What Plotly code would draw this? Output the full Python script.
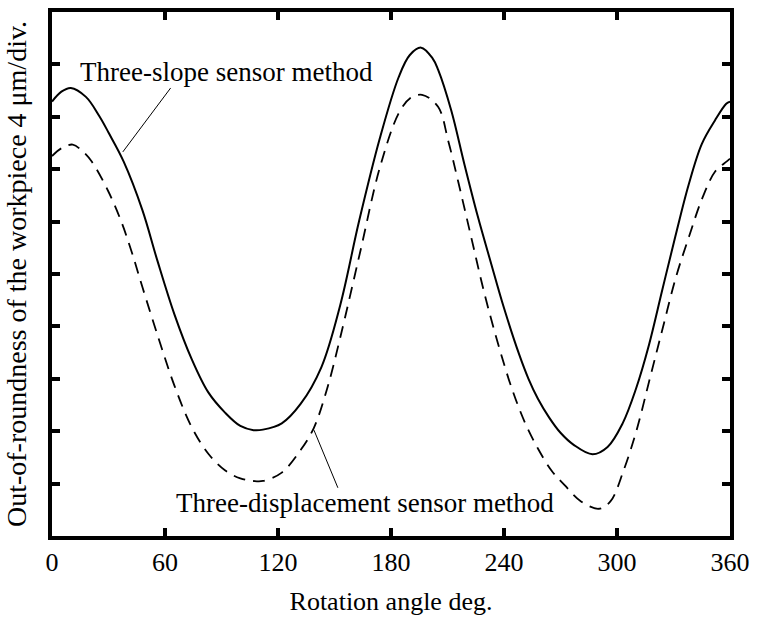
import plotly.graph_objects as go

# Three-slope sensor method (solid)
slope_angle = [0, 5, 10, 18, 25, 30, 38, 48, 56, 65, 74, 83, 92, 100, 107, 112, 122, 132, 143, 153,
               163, 174, 184, 190, 196, 202, 205, 212, 219, 226, 233, 240, 248, 253, 258, 264, 270, 277,
               287, 295, 303, 310, 317, 324, 331, 338, 345, 352, 358, 360]
slope_value = [8.29, 8.48, 8.55, 8.38, 8.02, 7.70, 7.15, 6.22, 5.25, 4.23, 3.39, 2.74, 2.35, 2.10, 2.02, 2.03,
               2.15, 2.52, 3.22, 4.40, 6.00, 7.58, 8.75, 9.18, 9.32, 9.12, 8.90, 8.12, 7.09, 6.11, 5.22,
               4.35, 3.47, 3.00, 2.62, 2.26, 1.97, 1.74, 1.56, 1.70, 2.15, 2.80, 3.65, 4.69, 5.72, 6.70,
               7.48, 7.93, 8.25, 8.29]

# Three-displacement sensor method (dashed)
disp_angle = [0, 5, 11, 16, 21, 30, 37, 42.5, 48, 56.5, 65, 74, 83, 92, 100, 107, 112, 122, 132, 139,
              146, 153, 163.5, 174, 184, 190, 196.5, 205, 210.4, 215.7, 222.6, 229.6, 237, 244.3, 251.3,
              258.3, 265.2, 272.2, 280.9, 290.4, 296.5, 303.5, 310.4, 317.4, 324.3, 331.3, 338.3, 345.2,
              352.2, 358.3, 360]
disp_value = [7.25, 7.40, 7.47, 7.35, 7.15, 6.57, 5.98, 5.40, 4.75, 3.78, 2.87, 2.09, 1.57, 1.25, 1.10,
              1.05, 1.05, 1.21, 1.64, 2.06, 2.80, 3.78, 5.40, 7.02, 8.06, 8.35, 8.42, 8.19, 7.54, 6.76,
              5.70, 4.63, 3.65, 2.80, 2.15, 1.65, 1.25, 0.97, 0.66, 0.52, 0.66, 1.25, 2.02, 3.00, 3.97,
              4.94, 5.72, 6.44, 6.96, 7.15, 7.20]

x_ticks = [0, 60, 120, 180, 240, 300, 360]
y_ticks = [1, 2, 3, 4, 5, 6, 7, 8, 9]

label_slope = "Three-slope sensor method"
label_disp = "Three-displacement sensor method"
x_title = "Rotation angle deg."
y_title = "Out-of-roundness of the workpiece 4 μm/div."

FONT = "Liberation Serif, Times New Roman, serif"

fig = go.Figure()
fig.add_trace(go.Scatter(x=slope_angle, y=slope_value, mode="lines",
                         line=dict(color="black", width=2, shape="spline", smoothing=1.0),
                         showlegend=False))
fig.add_trace(go.Scatter(x=disp_angle, y=disp_value, mode="lines",
                         line=dict(color="black", width=1.8, shape="spline", smoothing=1.0,
                                   dash="12px,8px"),
                         showlegend=False))

fig.add_annotation(x=92.9, y=8.85, xref="x", yref="y", text=label_slope, showarrow=False,
                   font=dict(family=FONT, size=27, color="black"), xanchor="center", yanchor="middle")
fig.add_annotation(x=166, y=0.63, xref="x", yref="y", text=label_disp, showarrow=False,
                   font=dict(family=FONT, size=27, color="black"), xanchor="center", yanchor="middle")

fig.add_shape(type="line", x0=63.0, y0=8.55, x1=37.6, y1=7.33, xref="x", yref="y",
              line=dict(color="black", width=1))
fig.add_shape(type="line", x0=139.1, y0=2.02, x1=151.8, y1=0.92, xref="x", yref="y",
              line=dict(color="black", width=1))

fig.update_layout(
    width=758, height=625,
    margin=dict(l=52, r=24, t=8, b=89),
    paper_bgcolor="white", plot_bgcolor="white",
    font=dict(family=FONT, size=26, color="black"),
    showlegend=False,
)
fig.update_xaxes(range=[0, 360], tickvals=x_ticks, ticktext=[str(v) for v in x_ticks],
                 ticks="inside", ticklen=8, tickwidth=4, tickcolor="black",
                 showline=True, linewidth=4, linecolor="black", mirror="allticks",
                 showgrid=False, zeroline=False,
                 tickfont=dict(family=FONT, size=26, color="black"),
                 title=dict(text=x_title, font=dict(family=FONT, size=26, color="black"), standoff=17))
fig.update_yaxes(range=[0, 10], tickvals=y_ticks, showticklabels=False,
                 ticks="inside", ticklen=8, tickwidth=4, tickcolor="black",
                 showline=True, linewidth=4, linecolor="black", mirror="allticks",
                 showgrid=False, zeroline=False,
                 title=dict(text=y_title, font=dict(family=FONT, size=28, color="black"), standoff=14))

fig.write_html("out.html")
